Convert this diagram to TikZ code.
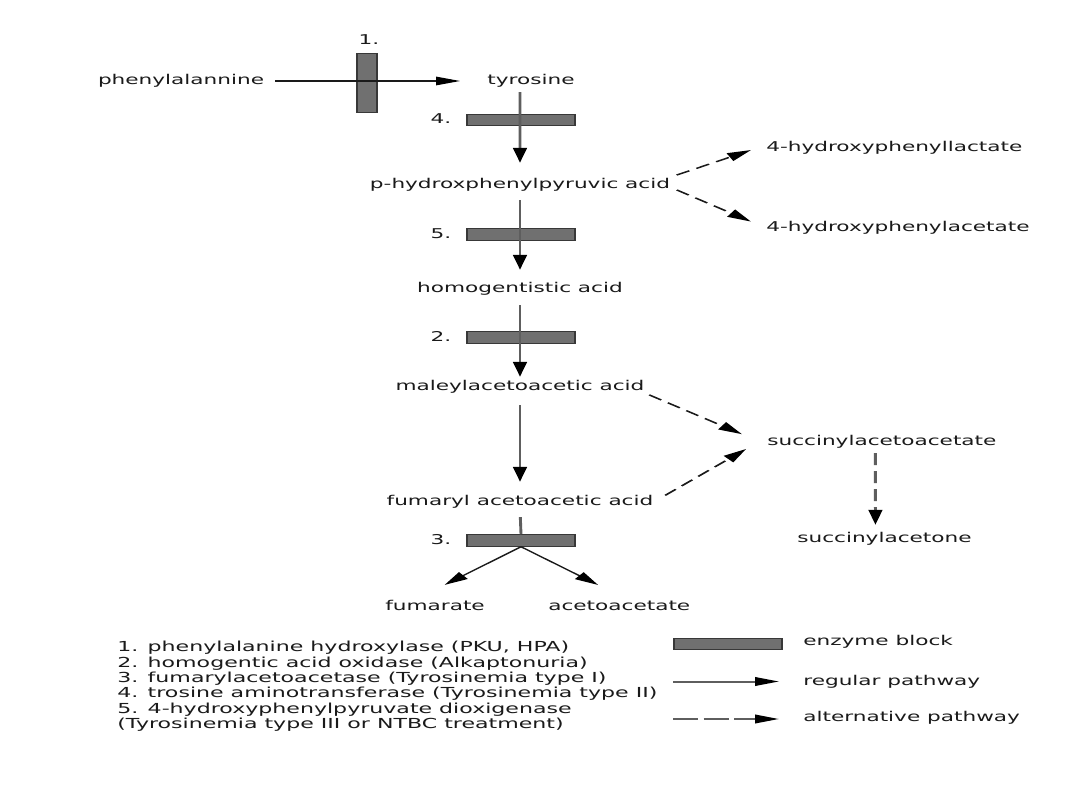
\documentclass[tikz,border=0pt]{standalone}
\usepackage{fontspec}
\setmainfont{DejaVu Sans}
\usetikzlibrary{arrows.meta}
\definecolor{blockfill}{HTML}{707070}
\definecolor{blockedge}{HTML}{383838}
\definecolor{linegray}{HTML}{5E5E5E}
\definecolor{txt}{HTML}{1A1A1A}
\tikzset{
  lbl/.style={inner sep=0pt, text height=10pt, text depth=3pt, font=\fontsize{13.5}{15}\selectfont, text=txt},
  legtxt/.style={inner sep=0pt, align=left, font=\fontsize{13.8}{15.4}\selectfont, text=txt},
  enzblock/.style={draw=blockedge, fill=blockfill, line width=1pt, inner sep=0pt, minimum width=67.5pt, minimum height=11.5pt},
  vblock/.style={enzblock, minimum width=12.5pt, minimum height=59pt},
  tri/.style={-{Triangle[length=15pt,width=8.5pt,color=black]}},
  mainpath/.style={draw=linegray, line width=1.8pt, tri},
  stem/.style={draw=linegray, line width=1.8pt},
  thinpath/.style={draw=txt, line width=1.2pt, tri},
  altpath/.style={draw=txt, line width=1.4pt, dash pattern=on 9pt off 5pt, tri},
  altgray/.style={draw=linegray, line width=1.8pt, dash pattern=on 12pt off 6pt, tri},
  legreg/.style={draw=linegray, line width=2pt, tri},
  legalt/.style={draw=linegray, line width=2pt, dash pattern=on 15.6pt off 3.6pt, tri},
}
\begin{document}
\begin{tikzpicture}
\fill[white] (0pt,0pt) rectangle (1080pt,-810pt);
\useasboundingbox (0pt,0pt) rectangle (1080pt,-810pt);
\begin{scope}[x=0.625pt, y=-1pt, transform canvas={xscale=1.6}]
  % enzyme blocks
  \node[vblock] (b1) at (367,83) {};
  \node[enzblock] (b4) at (521,120) {};
  \node[enzblock] (b5) at (521,234.5) {};
  \node[enzblock] (b2) at (521,337.5) {};
  \node[enzblock] (b3) at (521,540.5) {};
  % block numbers
  \node[lbl] (n1) at (369,41) {1.};
  \node[lbl] (n4) at (441,120) {4.};
  \node[lbl] (n5) at (441,235) {5.};
  \node[lbl] (n2) at (441,338) {2.};
  \node[lbl] (n3) at (441,541) {3.};
  % compounds
  \node[lbl] (phe) at (181,81) {phenylalannine};
  \node[lbl] (tyr) at (531,81) {tyrosine};
  \node[lbl] (phpp) at (520,185) {p-hydroxphenylpyruvic acid};
  \node[lbl, anchor=west] (hlac) at (766,148) {4-hydroxyphenyllactate};
  \node[lbl, anchor=west] (hacet) at (766,228) {4-hydroxyphenylacetate};
  \node[lbl] (hga) at (520,289) {homogentistic acid};
  \node[lbl] (maa) at (520,387) {maleylacetoacetic acid};
  \node[lbl, anchor=west] (sacac) at (767,442) {succinylacetoacetate};
  \node[lbl] (faa) at (520,502) {fumaryl acetoacetic acid};
  \node[lbl, anchor=west] (sacone) at (797,539) {succinylacetone};
  \node[lbl, anchor=west] (fum) at (385,607) {fumarate};
  \node[lbl, anchor=west] (aca) at (548,607) {acetoacetate};
  % regular pathway
  \draw[thinpath, shorten <=6.9pt, shorten >=16.9pt] (phe.east) -- (tyr.west);
  \draw[mainpath, shorten <=4.5pt, shorten >=15.5pt] ([xshift=-6.9pt]tyr.south) -- (phpp.north);
  \draw[mainpath, shorten <=8.5pt, shorten >=12.5pt] (phpp.south) -- (hga.north);
  \draw[mainpath, shorten <=9.5pt, shorten >=3.5pt] (hga.south) -- (maa.north);
  \draw[mainpath, shorten <=11.5pt, shorten >=13.5pt] (maa.south) -- (faa.north);
  \draw[stem, shorten <=8.5pt] (faa.south) -- (b3.north);
  \draw[thinpath, shorten >=24.7pt] (b3.south) -- ([xshift=-13.3pt]fum.north);
  \draw[thinpath, shorten >=24.7pt] (b3.south) -- ([xshift=6.1pt]aca.north);
  % alternative pathway
  \draw[altpath, shorten <=4.5pt, shorten >=10.6pt] ([yshift=7.8pt]phpp.east) -- ([yshift=3pt]hlac.west);
  \draw[altpath, shorten <=4.9pt, shorten >=11.4pt] ([yshift=-2.2pt]phpp.east) -- (hacet.west);
  \draw[altpath, shorten <=3.4pt, shorten >=18.9pt] ([yshift=-6pt]maa.east) -- ([yshift=-2.8pt]sacac.west);
  \draw[altpath, shorten <=9.8pt, shorten >=17.7pt] (faa.east) -- ([yshift=5pt]sacac.west);
  \draw[altgray, shorten <=4.5pt, shorten >=7.5pt] ([xshift=-4.1pt]sacac.south) -- ([xshift=-5.6pt]sacone.north);
  % legend
  \node[legtxt, anchor=north west] (leg) at (117,641) {1. phenylalanine hydroxylase (PKU, HPA)\\2. homogentic acid oxidase (Alkaptonuria)\\3. fumarylacetoacetase (Tyrosinemia type I)\\4. trosine aminotransferase (Tyrosinemia type II)\\5. 4-hydroxyphenylpyruvate dioxigenase\\(Tyrosinemia type III or NTBC treatment)};
  \node[enzblock] (lb) at (728,644) {};
  \node[lbl, anchor=west] (lbtxt) at (803,641.5) {enzyme block};
  \coordinate (r0) at (673,681.5);
  \coordinate (r1) at (779,681.5);
  \draw[legreg] (r0) -- (r1);
  \node[lbl, anchor=west] (rtxt) at (803,681.5) {regular pathway};
  \coordinate (a0) at (673,719);
  \coordinate (a1) at (779,719);
  \draw[legalt] (a0) -- (a1);
  \node[lbl, anchor=west] (atxt) at (803,718) {alternative pathway};
\end{scope}
\end{tikzpicture}
\end{document}
